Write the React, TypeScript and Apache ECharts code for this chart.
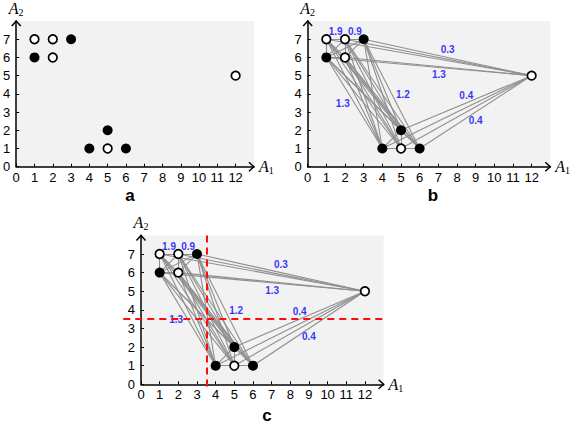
import React, { useEffect, useRef } from "react";
import * as echarts from "echarts";

// Points (A1, A2)
const filledA1 = [1, 3, 4, 5, 6];
const filledA2 = [6, 7, 1, 2, 1];
const openA1 = [1, 2, 2, 5, 12];
const openA2 = [7, 7, 6, 1, 5];

// Edge weight labels: position (A1, A2) and text
const labelA1 = [1.5, 2.53, 7.5, 7.03, 5.1, 1.88, 8.5, 9.0];
const labelA2 = [7.42, 7.42, 6.42, 5.04, 3.97, 3.47, 3.9, 2.56];
const labelText = ["1.9", "0.9", "0.3", "1.3", "1.2", "1.3", "0.4", "0.4"];

// Split thresholds (panel c)
const splitA1 = 3.5;
const splitA2 = 3.5;

const xMax = 13;
const yMax = 8;
const panelNames = ["a", "b", "c"];

const SANS = "'Liberation Sans', Arial, Helvetica, sans-serif";
const SERIF = "'Liberation Serif', 'Times New Roman', serif";

export default function App() {
  const ref = useRef<HTMLDivElement>(null);
  useEffect(() => {
    if (!ref.current) return;
    const chart = echarts.init(ref.current, undefined, { renderer: "svg" });

    const allPts: number[][] = [];
    filledA1.forEach((x, i) => allPts.push([x, filledA2[i]]));
    openA1.forEach((x, i) => allPts.push([x, openA2[i]]));
    const edges: { coords: number[][] }[] = [];
    for (let i = 0; i < allPts.length; i++)
      for (let j = i + 1; j < allPts.length; j++)
        edges.push({ coords: [allPts[i], allPts[j]] });

    const filledData = filledA1.map((x, i) => [x, filledA2[i]]);
    const openData = openA1.map((x, i) => [x, openA2[i]]);
    const labelData = labelA1.map((x, i) => ({ name: labelText[i], value: [x, labelA2[i]] }));

    const grids = [
      { left: 11.3, top: 17.8, width: 242.6, height: 148.9 },
      { left: 307.7, top: 17.8, width: 242.6, height: 148.9 },
      { left: 141, top: 235.4, width: 242.6, height: 148.9 },
    ].map((g) => ({ ...g, show: true, backgroundColor: "#f2f2f2", borderWidth: 0 }));

    const nameRich = {
      a: { fontFamily: SERIF, fontStyle: "italic", fontSize: 16, lineHeight: 18, color: "#000" },
      s: { fontFamily: SERIF, fontSize: 10, lineHeight: 10, verticalAlign: "bottom", color: "#000" },
    };

    const xAxes = grids.map((_, i) => ({
      type: "value",
      gridIndex: i,
      min: 0,
      max: xMax,
      interval: 1,
      name: "{a|A}{s|1}",
      nameLocation: "end",
      nameGap: 5,
      nameTextStyle: { rich: nameRich, verticalAlign: "middle" },
      axisLine: { show: true, onZero: false, lineStyle: { color: "#000", width: 1.5 } },
      axisTick: { show: true, inside: true, length: 3, lineStyle: { color: "#000", width: 1 } },
      axisLabel: { showMaxLabel: false, margin: 4, fontSize: 13, fontFamily: SANS, color: "#000" },
      splitLine: { show: false },
    }));
    const yAxes = grids.map((_, i) => ({
      type: "value",
      gridIndex: i,
      min: 0,
      max: yMax,
      interval: 1,
      name: "{a|A}{s|2}",
      nameLocation: "end",
      nameGap: 4,
      nameTextStyle: { rich: nameRich, align: "center" },
      axisLine: { show: true, onZero: false, lineStyle: { color: "#000", width: 1.5 } },
      axisTick: { show: true, inside: true, length: 3, lineStyle: { color: "#000", width: 1 } },
      axisLabel: { showMaxLabel: false, margin: 6, fontSize: 13, fontFamily: SANS, color: "#000" },
      splitLine: { show: false },
    }));

    const series: any[] = [];
    grids.forEach((_, gi) => {
      if (gi > 0) {
        series.push({
          type: "lines",
          coordinateSystem: "cartesian2d",
          xAxisIndex: gi,
          yAxisIndex: gi,
          polyline: false,
          silent: true,
          z: 2,
          lineStyle: { color: "#8f8f8f", width: 1.1, opacity: 1 },
          data: edges,
        });
        series.push({
          type: "scatter",
          xAxisIndex: gi,
          yAxisIndex: gi,
          symbolSize: 0,
          z: 3,
          silent: true,
          label: {
            show: true,
            position: "inside",
            formatter: "{b}",
            color: "#0000ff",
            fontSize: 10,
            fontWeight: "bold",
            fontFamily: SANS,
          },
          data: labelData,
        });
      }
      if (gi === 2) {
        series.push({
          type: "lines",
          coordinateSystem: "cartesian2d",
          xAxisIndex: gi,
          yAxisIndex: gi,
          polyline: false,
          clip: false,
          silent: true,
          z: 4,
          lineStyle: { color: "#ff0d0d", width: 2, type: [7, 5], opacity: 1 },
          data: [
            { coords: [[splitA1, yMax], [splitA1, -0.15]] },
            { coords: [[-0.95, splitA2], [xMax, splitA2]] },
          ],
        });
      }
      series.push({
        type: "scatter",
        xAxisIndex: gi,
        yAxisIndex: gi,
        symbol: "circle",
        symbolSize: 10,
        z: 5,
        silent: true,
        itemStyle: { color: "#000", borderColor: "#000", borderWidth: 0, opacity: 1 },
        data: filledData,
      });
      series.push({
        type: "scatter",
        xAxisIndex: gi,
        yAxisIndex: gi,
        symbol: "circle",
        symbolSize: 8.6,
        z: 5,
        silent: true,
        itemStyle: { color: "#fff", borderColor: "#000", borderWidth: 1.7, opacity: 1 },
        data: openData,
      });
      series.push({
        type: "custom",
        xAxisIndex: gi,
        yAxisIndex: gi,
        z: 6,
        silent: true,
        clip: false,
        data: [
          [xMax, 0, 0],
          [0, yMax, 1],
        ],
        renderItem: (params: any, api: any) => {
          const p = api.coord([api.value(0), api.value(1)]);
          const dir = api.value(2);
          const pts =
            dir === 0
              ? [[p[0] - 5, p[1] - 4.5], [p[0], p[1]], [p[0] - 5, p[1] + 4.5]]
              : [[p[0] - 4.5, p[1] + 5], [p[0], p[1]], [p[0] + 4.5, p[1] + 5]];
          return {
            type: "polyline",
            shape: { points: pts },
            style: { stroke: "#000", lineWidth: 1.5, fill: "none" },
          };
        },
      });
    });

    const panelPos = [
      [130, 195],
      [433, 195],
      [267, 415],
    ];
    const graphic = panelNames.map((t, i) => ({
      type: "text",
      x: panelPos[i][0],
      y: panelPos[i][1],
      style: {
        text: t,
        fontSize: 17,
        fontWeight: "bold",
        fontFamily: SANS,
        fill: "#000",
        align: "center",
        verticalAlign: "middle",
      },
    }));

    chart.setOption({
      animation: false,
      backgroundColor: "#fff",
      grid: grids,
      xAxis: xAxes,
      yAxis: yAxes,
      series,
      graphic,
    });
    return () => chart.dispose();
  }, []);
  return (
    <div
      ref={ref}
      style={{ position: "fixed", left: 0, top: 0, width: 572, height: 428 }}
    />
  );
}
